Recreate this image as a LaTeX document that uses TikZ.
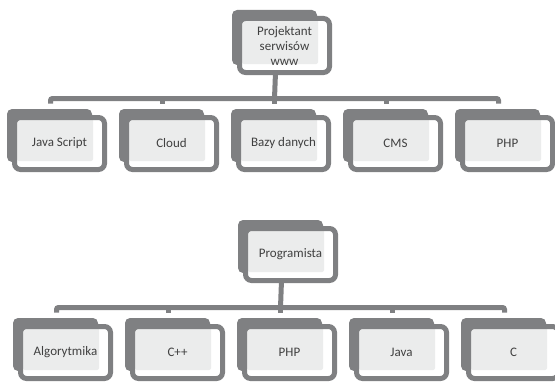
\documentclass[tikz,border=0pt]{standalone}
\usepackage{fontspec}
\setmainfont{Carlito}
\usetikzlibrary{positioning, backgrounds}
\definecolor{ramka}{RGB}{127,128,130}
\definecolor{tlo}{RGB}{235,236,236}
\definecolor{napis}{RGB}{64,64,64}
\tikzset{
	node distance=112pt, % odstep miedzy srodkami kart
	karta/.style={draw=ramka, line width=5pt, fill=white, rounded corners=6pt,
		minimum width=90pt, minimum height=52pt, inner sep=0pt, outer sep=0pt,
		text=napis, font=\fontsize{13}{15}\selectfont, align=center,
		path picture={\fill[tlo, rounded corners=2pt]
			([shift={(2.5pt,-0.5pt)}]path picture bounding box.north west) rectangle
			([shift={(-11.5pt,8.5pt)}]path picture bounding box.south east);}}, % karta z jasnym polem na tekst
	cien/.style={fill=ramka, rounded corners=5pt}, % ciemna karta z tylu
	linia/.style={draw=ramka, line width=5pt, rounded corners=2pt} % polaczenia
}

\begin{document}
\begin{tikzpicture}
	\useasboundingbox (0,0) rectangle (555pt,384pt);
	\node[karta, minimum height=54pt] (w0) at (284.5pt,338.5pt) {Projektant\\serwisów\\www};
	\node[karta] (w1) at (59.5pt,240.5pt) {Java Script};
	\node[karta, right of=w1] (w2) {Cloud};
	\node[karta, right of=w2] (w3) {Bazy danych};
	\node[karta, right of=w3] (w4) {CMS};
	\node[karta, right of=w4] (w5) {PHP};
	\node[karta] (g0) at (290.5pt,129.5pt) {Programista};
	\node[karta] (g1) at (65.5pt,31.5pt) {Algorytmika};
	\node[karta, right of=g1] (g2) {C++};
	\node[karta, right of=g2] (g3) {PHP};
	\node[karta, right of=g3] (g4) {Java};
	\node[karta, right of=g4] (g5) {C};
	\begin{scope}[on background layer]
		\foreach \n in {w0,w1,w2,w3,w4,w5,g0,g1,g2,g3,g4,g5}
			\fill[cien] ([shift={(-7.5pt,8.5pt)}]\n.north west) rectangle ([shift={(-12.5pt,7.5pt)}]\n.south east);
	\end{scope}
	\draw[linia] ([xshift=-9pt,yshift=14pt]w1.north) |- ([xshift=-9pt,yshift=19pt]w5.north) -- ([xshift=-9pt,yshift=14pt]w5.north);
	\draw[linia] ([xshift=-9pt,yshift=14pt]g1.north) |- ([xshift=-9pt,yshift=19pt]g5.north) -- ([xshift=-9pt,yshift=14pt]g5.north);
	\foreach \n in {w2,w3,w4,g2,g3,g4}
		\draw[linia] ([xshift=-9pt,yshift=14pt]\n.north) -- ++(0,5pt);
	\draw[linia] ([xshift=-9pt]w0.south) -- ([xshift=-9pt,yshift=19pt]w3.north);
	\draw[linia] ([xshift=-9pt]g0.south) -- ([xshift=-9pt,yshift=19pt]g3.north);
\end{tikzpicture}
\end{document}
